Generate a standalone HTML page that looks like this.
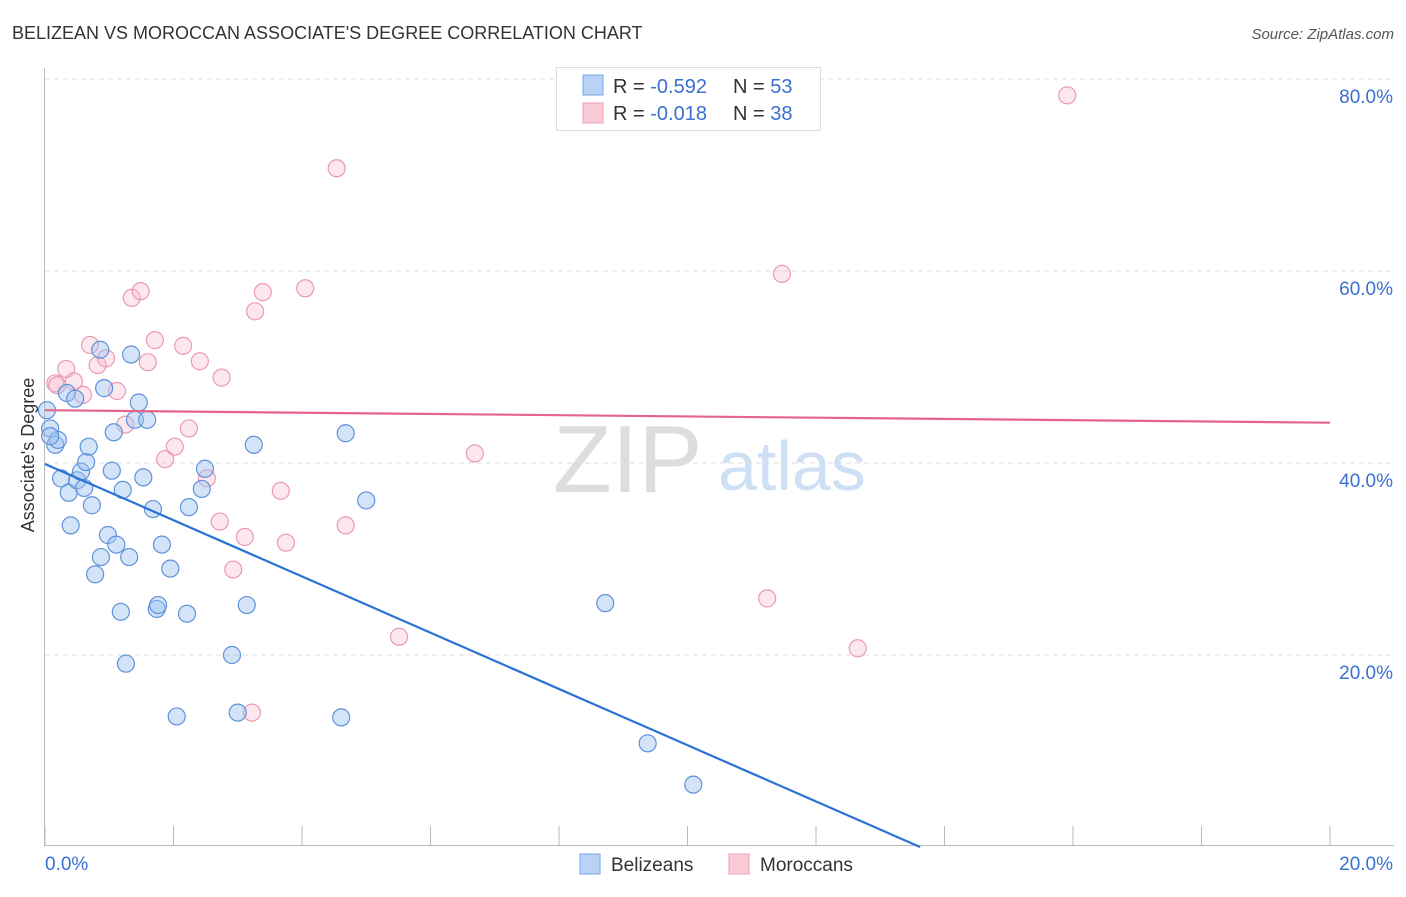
<!DOCTYPE html>
<html><head><meta charset="utf-8"><style>
body{margin:0;background:#fff;font-family:"Liberation Sans",sans-serif;}
svg text{font-family:"Liberation Sans",sans-serif;}
</style></head><body>
<svg id="chart" width="1406" height="892">
<text x="12" y="39" font-size="18" fill="#333">BELIZEAN VS MOROCCAN ASSOCIATE'S DEGREE CORRELATION CHART</text>
<text x="1394" y="39" font-size="15" fill="#555" font-style="italic" text-anchor="end">Source: ZipAtlas.com</text>
<g>
<text x="553" y="492" font-size="96" fill="#ddd" font-family="Liberation Serif">ZIP</text>
<text x="718" y="490" font-size="70" fill="#cfe0f5">atlas</text>
</g>
<g id="grid"></g><g id="axes"></g><g id="pts"></g><g id="trends"></g>
<text transform="translate(34,455) rotate(-90)" font-size="18" fill="#333" text-anchor="middle">Associate's Degree</text>
<g>
<rect x="556.5" y="67.5" width="264" height="63" fill="#fff" stroke="#ddd"/>
<rect x="583" y="75" width="20" height="20" fill="#b9d2f5" stroke="#7aa6e4"/>
<rect x="583" y="103" width="20" height="20" fill="#fbcad7" stroke="#eb9fb6"/>
<text x="613" y="93" font-size="20" fill="#333">R = <tspan fill="#3a70d0">-0.592</tspan><tspan x="733">N = </tspan><tspan fill="#3a70d0">53</tspan></text>
<text x="613" y="120" font-size="20" fill="#333">R = <tspan fill="#3a70d0"> -0.018</tspan><tspan x="733">N = </tspan><tspan fill="#3a70d0">38</tspan></text>
</g>
<g>
<rect x="580" y="854" width="20" height="20" fill="#b9d2f5" stroke="#7aa6e4"/>
<text x="611" y="871" font-size="19" fill="#333">Belizeans</text>
<rect x="729" y="854" width="20" height="20" fill="#fbcad7" stroke="#eb9fb6"/>
<text x="760" y="871" font-size="19" fill="#333">Moroccans</text>
</g>
</svg>
<script>
const blueX=[0.03,0.08,0.16,0.2,0.25,0.34,0.37,0.4,0.47,0.5,0.56,0.61,0.64,0.68,0.73,0.78,0.86,0.87,0.92,0.98,1.04,1.07,1.11,1.21,1.18,1.26,1.31,1.34,1.40,1.46,1.53,1.59,1.68,1.74,1.76,1.82,1.95,2.05,2.21,2.24,2.44,2.49,2.91,3.0,3.14,3.25,4.61,4.68,5.0,8.72,9.38,10.09,0.08];
const blueY=[45.5,43.6,41.9,42.4,38.4,47.3,36.9,33.5,46.7,38.2,39.1,37.4,40.1,41.7,35.6,28.4,51.8,30.2,47.8,32.5,39.2,43.2,31.5,37.2,24.5,19.1,30.2,51.3,44.5,46.3,38.5,44.5,35.2,24.8,25.2,31.5,29.0,13.6,24.3,35.4,37.3,39.4,20.0,14.0,25.2,41.9,13.5,43.1,36.1,25.4,10.8,6.5,42.8];
const pinkX=[0.16,0.19,0.33,0.45,0.59,0.70,0.82,0.95,1.12,1.25,1.35,1.49,1.60,1.71,1.87,2.02,2.15,2.24,2.41,2.52,2.72,2.75,2.93,3.11,3.22,3.27,3.39,3.67,3.75,4.05,4.54,4.68,5.51,6.69,11.24,11.47,12.65,15.91];
const pinkY=[48.3,48.1,49.8,48.5,47.1,52.3,50.2,50.9,47.5,44.0,57.2,57.9,50.5,52.8,40.4,41.7,52.2,43.6,50.6,38.4,33.9,48.9,28.9,32.3,14.0,55.8,57.8,37.1,31.7,58.2,70.7,33.5,21.9,41.0,25.9,59.7,20.7,78.3];
const blueTrend=[[0,39.9],[13.62,0]];
const pinkTrend=[[0,45.5],[20,44.2]];
const yTicks=[20,40,60,80];
const xTicks=[0,2,4,6,8,10,12,14,16,18,20];
const NS="http://www.w3.org/2000/svg";
const sx=v=>45+v*1285/20, sy=v=>847-v*9.6;
function mk(tag,attrs,parent){const e=document.createElementNS(NS,tag);for(const k in attrs)e.setAttribute(k,attrs[k]);parent.appendChild(e);return e;}
const grid=document.getElementById('grid'),axes=document.getElementById('axes'),pts=document.getElementById('pts'),tr=document.getElementById('trends');
yTicks.forEach(t=>{
 const l=mk('line',{x1:45,x2:1394,y1:sy(t),y2:sy(t),stroke:'#ddd','stroke-dasharray':'5,4'},grid);
 
 
 const tx=mk('text',{x:1393,y:sy(t)+24,'font-size':19,fill:'#3a70d0','text-anchor':'end'},axes);
 tx.textContent=t.toFixed(1)+'%';
 
 
});
const yax=mk('line',{x1:44.5,x2:44.5,y1:68,y2:846,stroke:'#bbb'},axes);


const xax=mk('line',{x1:45,x2:1394,y1:845.5,y2:845.5,stroke:'#bbb'},axes);


xTicks.forEach(t=>{
 const l=mk('line',{x1:sx(t),x2:sx(t),y1:826,y2:846,stroke:'#bbb'},axes);
 
 
});
[[0,'start'],[20,'end']].forEach(([t,a])=>{
 const tx=mk('text',{x:t==0?45:1393,y:870,'font-size':19,fill:'#3a70d0','text-anchor':a},axes);
 tx.textContent=t.toFixed(1)+'%';
 
 
});
pinkX.forEach((x,i)=>{
 const c=mk('circle',{cx:sx(x),cy:sy(pinkY[i]),r:8.5,fill:'rgba(248,185,205,0.35)',stroke:'#e99ab2','stroke-width':1.2},pts);
 
 
});
blueX.forEach((x,i)=>{
 const c=mk('circle',{cx:sx(x),cy:sy(blueY[i]),r:8.5,fill:'rgba(160,195,240,0.45)',stroke:'#5f92da','stroke-width':1.2},pts);
 
 
});
const bt=mk('line',{x1:sx(blueTrend[0][0]),y1:sy(blueTrend[0][1]),x2:sx(blueTrend[1][0]),y2:sy(blueTrend[1][1]),stroke:'#2a72d8','stroke-width':2.2},tr);


const pt=mk('line',{x1:sx(pinkTrend[0][0]),y1:sy(pinkTrend[0][1]),x2:sx(pinkTrend[1][0]),y2:sy(pinkTrend[1][1]),stroke:'#e4648c','stroke-width':2.2},tr);


</script>
</body></html>
